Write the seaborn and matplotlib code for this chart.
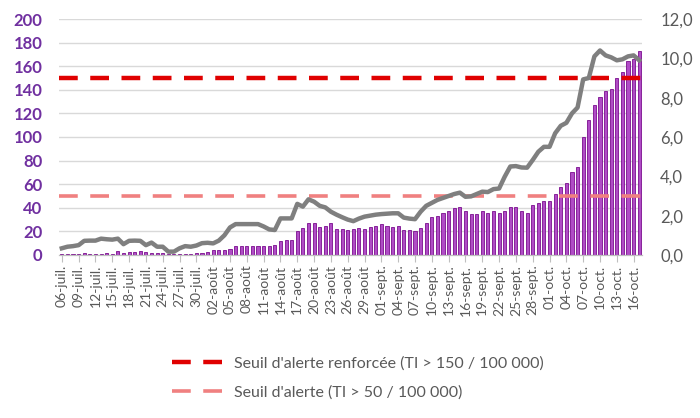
import numpy as np
import pandas as pd
import seaborn as sns
import matplotlib as mpl
import matplotlib.pyplot as plt

# daily data, 06-juil. -> 17-oct.
days = pd.date_range("2020-07-06", "2020-10-17", freq="D")
months = {7: "juil.", 8: "août", 9: "sept.", 10: "oct."}
day_labels = [f"{d.day:02d}-{months[d.month]}" for d in days]

# incidence rate (left axis, bars)
incidence = [
    1.0, 1.2, 1.0, 1.2, 1.5, 1.2, 1.0, 1.2, 1.5, 1.2,
    3.0, 1.5, 2.5, 2.5, 3.0, 2.5, 2.0, 1.5, 1.5, 1.0,
    0.8, 0.5, 0.5, 1.0, 1.5, 2.0, 2.5, 4.0, 4.0, 4.5,
    5.0, 7.5, 8.0, 7.5, 8.0, 8.0, 8.0, 7.5, 8.5, 12.0,
    12.5, 13.0, 20.0, 23.0, 27.0, 27.0, 24.0, 24.5, 27.0, 22.0,
    22.0, 21.0, 22.0, 22.5, 22.0, 24.0, 24.5, 26.0, 24.5, 24.0,
    24.5, 21.0, 21.0, 20.0, 23.0, 27.5, 32.5, 33.0, 35.5, 37.0,
    40.0, 41.0, 37.0, 35.0, 34.5, 37.0, 36.0, 37.5, 36.0, 37.0,
    40.5, 40.5, 37.0, 36.0, 42.0, 44.0, 46.0, 46.0, 52.0, 58.0,
    61.0, 70.5, 74.5, 100.0, 114.0, 127.0, 134.0, 139.0, 141.0, 150.0,
    155.0, 164.0, 166.5, 173.0,
]

# positivity rate (right axis, line)
positivity = [
    0.34, 0.42, 0.45, 0.5, 0.72, 0.73, 0.73, 0.83, 0.8, 0.78,
    0.83, 0.55, 0.72, 0.73, 0.72, 0.5, 0.63, 0.42, 0.42, 0.17,
    0.17, 0.34, 0.45, 0.42, 0.48, 0.6, 0.62, 0.59, 0.73, 1.0,
    1.4, 1.57, 1.57, 1.57, 1.57, 1.57, 1.45, 1.3, 1.27, 1.86,
    1.86, 1.86, 2.6, 2.46, 2.83, 2.71, 2.5, 2.42, 2.2, 2.05,
    1.92, 1.8, 1.72, 1.85, 1.95, 2.0, 2.05, 2.08, 2.1, 2.12,
    2.12, 1.9, 1.85, 1.82, 2.2, 2.5, 2.65, 2.8, 2.9, 3.0,
    3.1, 3.17, 2.96, 2.98, 3.1, 3.22, 3.2, 3.35, 3.38, 3.98,
    4.5, 4.52, 4.45, 4.44, 4.83, 5.25, 5.5, 5.5, 6.19, 6.57,
    6.72, 7.2, 7.5, 8.93, 9.0, 10.1, 10.4, 10.15, 10.05, 9.9,
    9.95, 10.1, 10.15, 9.9,
]

thresholds = [150, 50]
threshold_labels = ["Seuil d'alerte renforcée (TI > 150 / 100 000)",
                    "Seuil d'alerte (TI > 50 / 100 000)"]
threshold_colors = ["#E00000", "#F08080"]

plt.rcParams["font.family"] = ["Lato", "DejaVu Sans"]

fig = plt.figure(figsize=(7, 4.18), dpi=100)
ax = fig.add_axes([0.0843, 0.39, 0.8329, 0.5645])

sns.barplot(x=day_labels, y=incidence, ax=ax, color="#B04CC6", saturation=1,
            width=0.55, edgecolor="#7A0E8E", linewidth=0.6)
ax.set_ylim(0, 200)
ax.set_yticks(range(0, 201, 20))
ax.set_xlim(-0.5, len(days) - 0.5)
ax.yaxis.grid(True, color="#D9D9D9", lw=1)
ax.set_axisbelow(True)

handles = []
for val, col, lw in zip(thresholds, threshold_colors, [3.2, 2.6]):
    h = ax.axhline(val, color=col, lw=lw, dashes=(13.5 / lw, 9 / lw))
    handles.append(h)

ax2 = ax.twinx()
sns.lineplot(x=np.arange(len(days)), y=positivity, ax=ax2, color="#7F7F7F", lw=3.2)
ax2.set_ylim(0, 12)
ax2.set_yticks(np.arange(0, 12.1, 2))
ax2.yaxis.set_major_formatter(mpl.ticker.FuncFormatter(lambda v, p: f"{v:.1f}".replace(".", ",")))

ax.set_xticks(range(0, len(days), 3))
ax.set_xticklabels(day_labels[::3], rotation=90)
ax.tick_params(axis="x", length=5, color="#BFBFBF", labelsize=10, labelcolor="#595959", pad=2)
ax.tick_params(axis="y", length=0, pad=12, labelsize=12, labelcolor="#7030A0")
for t in ax.get_yticklabels():
    t.set_fontweight("bold")
ax2.tick_params(axis="y", length=0, pad=13, labelsize=12, labelcolor="#595959")

for a in (ax, ax2):
    for s in ("top", "left", "right"):
        a.spines[s].set_visible(False)
    a.spines["bottom"].set_color("#BFBFBF")
    a.set(xlabel="", ylabel="")

fig.legend(handles, threshold_labels, loc="upper left", bbox_to_anchor=(0.225, 0.183),
           frameon=False, handlelength=3.3, handletextpad=0.6, fontsize=11.5,
           labelcolor="#595959", labelspacing=0.95)

fig.savefig("out.png", dpi=100)
